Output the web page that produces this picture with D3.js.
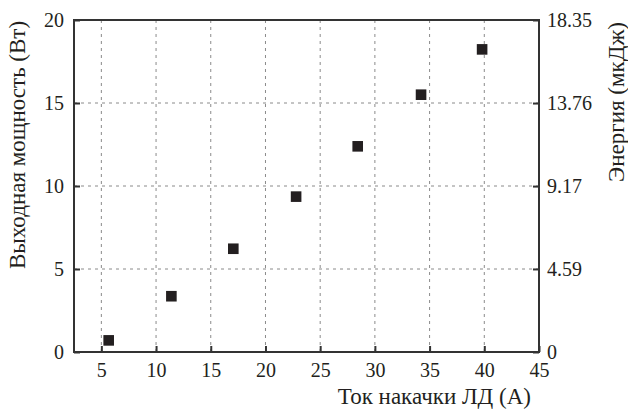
<!DOCTYPE html>
<html lang="ru">
<head>
    <meta charset="UTF-8">
    <title>Power vs current</title>
    <script src="https://d3js.org/d3.v7.min.js"></script>
    <style>
        body { margin: 0; background: #fff; }
        text { font-family: "Liberation Serif", "DejaVu Serif", serif; fill: #231f20; }
    </style>
</head>
<body>
<script>
    // data
    var current = [5.67, 11.4, 17.06, 22.8, 28.43, 34.22, 39.8];
    var power = [0.70, 3.36, 6.22, 9.36, 12.39, 15.5, 18.23];
    var xTicks = [5, 10, 15, 20, 25, 30, 35, 40, 45];
    var yTicks = [0, 5, 10, 15, 20];
    var energyTicks = [0, 4.59, 9.17, 13.76, 18.35];

    var margin = {top: 20, right: 89, bottom: 58, left: 74},
        width = 628 - margin.left - margin.right,
        height = 410 - margin.top - margin.bottom;

    var xScale = d3.scaleLinear().domain([2.5, 45]).range([0, width]);
    var yScale = d3.scaleLinear().domain([0, 20]).range([height, 0]);
    var eScale = d3.scaleLinear().domain([0, 18.35]).range([height, 0]);

    var svg = d3.select("body").append("svg")
        .attr("width", 628)
        .attr("height", 410);

    var g = svg.append("g")
        .attr("transform", "translate(" + margin.left + "," + margin.top + ")");

    // grid
    g.selectAll("line.vgrid")
        .data(xTicks.filter(function(d) { return d < 45; }))
        .enter().append("line")
        .attr("class", "vgrid")
        .attr("x1", function(d) { return xScale(d); })
        .attr("x2", function(d) { return xScale(d); })
        .attr("y1", 0).attr("y2", height)
        .style("stroke", "#8a8a8a")
        .style("stroke-width", 1)
        .style("stroke-dasharray", "3,4");

    g.selectAll("line.hgrid")
        .data(yTicks.filter(function(d) { return d > 0 && d < 20; }))
        .enter().append("line")
        .attr("class", "hgrid")
        .attr("y1", function(d) { return yScale(d); })
        .attr("y2", function(d) { return yScale(d); })
        .attr("x1", 0).attr("x2", width)
        .style("stroke", "#8a8a8a")
        .style("stroke-width", 1)
        .style("stroke-dasharray", "3,4");

    // axes, ticks pointing inward
    var x_axis = d3.axisBottom(xScale).tickValues(xTicks).tickSizeInner(-6).tickSizeOuter(0).tickPadding(11);
    var y_axis = d3.axisLeft(yScale).tickValues(yTicks).tickSizeInner(-6).tickSizeOuter(0).tickPadding(10);
    var e_axis = d3.axisRight(eScale).tickValues(energyTicks).tickSizeInner(-6).tickSizeOuter(0).tickPadding(8)
        .tickFormat(function(d) { return d === 0 ? "0" : d3.format(".2f")(d); });

    function styleAxis(sel) {
        sel.select(".domain").remove();
        sel.selectAll(".tick line").style("stroke", "#333").style("stroke-width", 2);
        sel.selectAll(".tick text").style("font-size", "20px").style("fill", "#231f20");
    }

    g.append("g")
        .attr("transform", "translate(0," + height + ")")
        .call(x_axis)
        .call(styleAxis)
        .selectAll(".tick text").attr("dy", "0.71em");

    g.append("g")
        .call(y_axis)
        .call(styleAxis);

    g.append("g")
        .attr("transform", "translate(" + width + ",0)")
        .call(e_axis)
        .call(styleAxis);

    // frame
    g.append("rect")
        .attr("width", width)
        .attr("height", height)
        .style("fill", "none")
        .style("stroke", "#333")
        .style("stroke-width", 2);

    // points
    var sq = 10.6;
    g.selectAll("rect.pt")
        .data(current.map(function(c, i) { return [c, power[i]]; }))
        .enter().append("rect")
        .attr("class", "pt")
        .attr("x", function(d) { return xScale(d[0]) - sq / 2; })
        .attr("y", function(d) { return yScale(d[1]) - sq / 2; })
        .attr("width", sq)
        .attr("height", sq)
        .style("fill", "#231f20");

    // axis titles
    svg.append("text")
        .attr("x", 531)
        .attr("y", 404)
        .attr("text-anchor", "end")
        .style("font-size", "23px")
        .text("Ток накачки ЛД (А)");

    svg.append("text")
        .attr("transform", "translate(25,145) rotate(-90)")
        .attr("text-anchor", "middle")
        .style("font-size", "23px")
        .text("Выходная мощность (Вт)");

    svg.append("text")
        .attr("transform", "translate(624,102) rotate(-90)")
        .attr("text-anchor", "middle")
        .style("font-size", "23px")
        .text("Энергия (мкДж)");
</script>
</body>
</html>
